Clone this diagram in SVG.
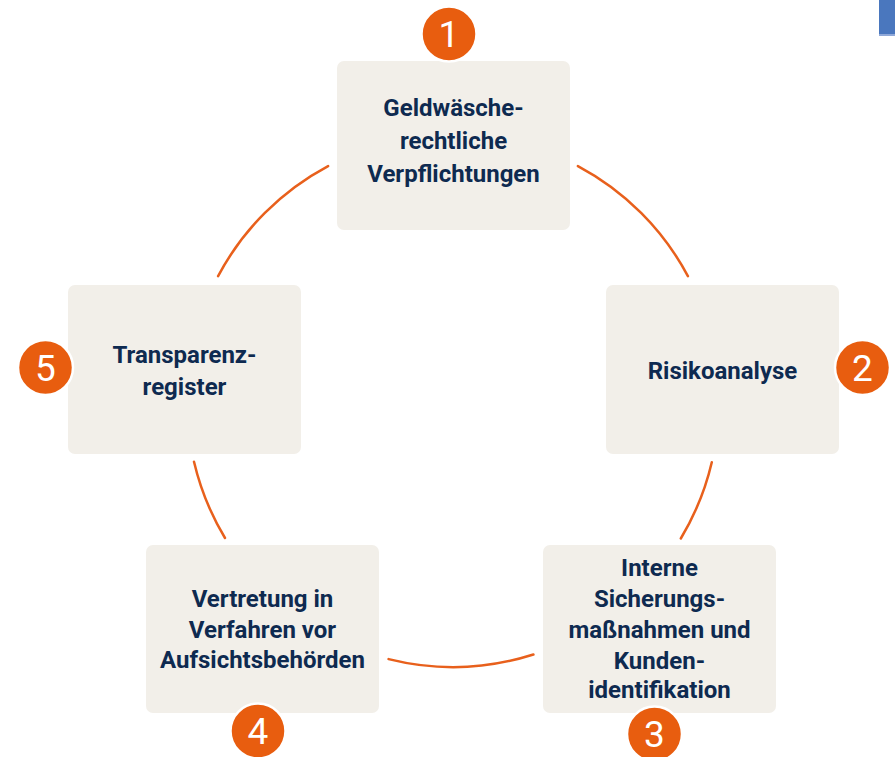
<svg xmlns="http://www.w3.org/2000/svg" width="895" height="757" viewBox="0 0 895 757">
<style>
.box{fill:#F2EFE9}
.lbl{font-family:Roboto,"Liberation Sans",sans-serif;font-weight:700;font-size:24px;fill:#0E2A50;text-anchor:middle}
.badge{fill:#E85D0F;stroke:#FFFFFF;stroke-width:2.5}
.num{font-family:Roboto,"Liberation Sans",sans-serif;font-weight:400;font-size:37px;fill:#FFFFFF;text-anchor:middle}
.arc{fill:none;stroke:#E8601C;stroke-width:2.5;stroke-linecap:round}
</style>
<rect x="0" y="0" width="895" height="757" fill="#FFFFFF"/>
<rect x="879" y="0" width="16" height="34" fill="#4A77BE"/>
<rect x="879" y="34" width="16" height="2" fill="#8FA8D8"/>
<g id="connectors">
<path class="arc" d="M218.1,276.1 A266,266 0 0 1 328.1,166.1"/>
<path class="arc" d="M577.9,166.1 A266,266 0 0 1 687.9,276.1"/>
<path class="arc" d="M711.8,462.2 A266,266 0 0 1 680.8,538.5"/>
<path class="arc" d="M533.4,654.5 A266,266 0 0 1 388.6,659.1"/>
<path class="arc" d="M225,538 A266,266 0 0 1 194,461.7"/>
</g>
<g id="node1">
<rect class="box" x="337" y="61" width="233" height="169" rx="7"/>
<text class="lbl" x="453.5" y="116">Geldwäsche-</text>
<text class="lbl" x="453.5" y="149">rechtliche</text>
<text class="lbl" x="453.5" y="182">Verpflichtungen</text>
<circle class="badge" cx="449" cy="34" r="27.5"/>
<text class="num" x="449" y="47">1</text>
</g>
<g id="node2">
<rect class="box" x="606" y="285" width="233" height="169" rx="7"/>
<text class="lbl" x="722.5" y="379">Risikoanalyse</text>
<circle class="badge" cx="862.5" cy="367.5" r="27.5"/>
<text class="num" x="862.5" y="380.5">2</text>
</g>
<g id="node3">
<rect class="box" x="543" y="545" width="233" height="168" rx="7"/>
<text class="lbl" x="659.5" y="576">Interne</text>
<text class="lbl" x="659.5" y="607">Sicherungs-</text>
<text class="lbl" x="659.5" y="638">maßnahmen und</text>
<text class="lbl" x="659.5" y="669">Kunden-</text>
<text class="lbl" x="659.5" y="698">identifikation</text>
<circle class="badge" cx="654.5" cy="734" r="27.5"/>
<text class="num" x="654.5" y="747">3</text>
</g>
<g id="node4">
<rect class="box" x="146" y="545" width="233" height="168" rx="7"/>
<text class="lbl" x="262.5" y="607">Vertretung in</text>
<text class="lbl" x="262.5" y="638">Verfahren vor</text>
<text class="lbl" x="262.5" y="668">Aufsichtsbehörden</text>
<circle class="badge" cx="258" cy="731" r="27.5"/>
<text class="num" x="258" y="744">4</text>
</g>
<g id="node5">
<rect class="box" x="68" y="285" width="233" height="169" rx="7"/>
<text class="lbl" x="184.5" y="363">Transparenz-</text>
<text class="lbl" x="184.5" y="395">register</text>
<circle class="badge" cx="45.5" cy="367.5" r="27.5"/>
<text class="num" x="45.5" y="380.5">5</text>
</g>
</svg>
